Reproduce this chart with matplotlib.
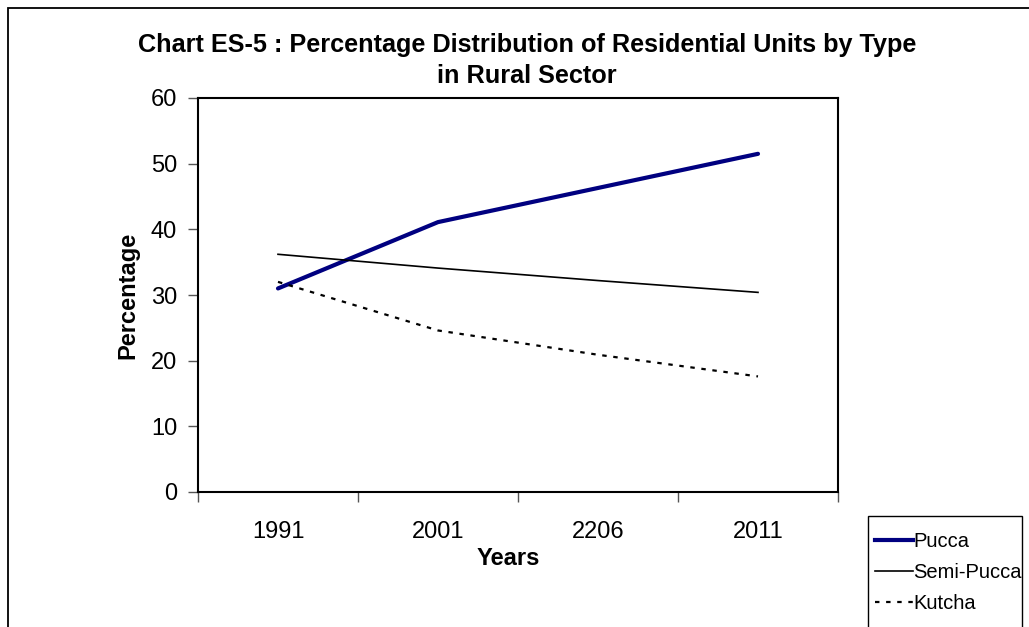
import numpy as np
import matplotlib
matplotlib.use("Agg")
import matplotlib.pyplot as plt
from matplotlib.patches import Rectangle
from matplotlib.lines import Line2D

plt.rcParams['font.family'] = ['Liberation Sans', 'DejaVu Sans']

# data
years = ["1991", "2001", "2206", "2011"]
pucca = [31.0, 41.1, 46.3, 51.5]
semi_pucca = [36.2, 34.1, 32.2, 30.4]
kutcha = [32.0, 24.6, 20.9, 17.6]

W, H = 1029, 627
fig = plt.figure(figsize=(W / 100, H / 100), dpi=100)
ax = fig.add_axes([198 / W, 1 - 492 / H, 640 / W, 394 / H])

x = np.arange(len(years))
ax.plot(x, pucca, color="#000080", lw=3.0, solid_capstyle="round", label="Pucca")
ax.plot(x, semi_pucca, color="black", lw=1.2, label="Semi-Pucca")
ax.plot(x, kutcha, color="black", lw=1.6, linestyle=(0, (2, 3)), label="Kutcha")

ax.set_xlim(-0.5, len(years) - 0.5)
ax.set_ylim(0, 60)
ax.set_yticks(np.arange(0, 61, 10))

# boundaries get tick marks, centres get the labels
ax.set_xticks(np.arange(-0.5, len(years), 1.0))
ax.set_xticklabels([])
ax.set_xticks(x, minor=True)
ax.set_xticklabels(years, minor=True)
ax.tick_params(axis="x", which="minor", length=0, pad=21, labelsize=17)
ax.tick_params(axis="x", which="major", length=7, width=1, direction="out", color="#555555")
ax.tick_params(axis="y", length=7, width=1, direction="out", labelsize=17, pad=8, color="#555555")

for s in ax.spines.values():
    s.set_linewidth(1.5)
    s.set_color("black")

ax.set_xlabel("Years", fontsize=17, fontweight="bold", labelpad=0)
ax.xaxis.set_label_coords(0.485, -0.14)
ax.set_ylabel("Percentage", fontsize=17, fontweight="bold", labelpad=8)

fig.text(527 / W, 1 - 45 / H, "Chart ES-5 : Percentage Distribution of Residential Units by Type",
         ha="center", va="center", fontsize=18.2, fontweight="bold")
fig.text(527 / W, 1 - 76 / H, "in Rural Sector",
         ha="center", va="center", fontsize=18.2, fontweight="bold")

# outer chart border (cut off at right and bottom)
fig.patches.append(Rectangle((8 / W, -0.2), 1.2, 1.2 - 8 / H, transform=fig.transFigure,
                             fill=False, edgecolor="black", lw=1.3))

# legend box (cut off at bottom)
fig.patches.append(Rectangle((868 / W, -0.2), (1022 - 868) / W, 0.2 + 1 - 516 / H,
                             transform=fig.transFigure, fill=False, edgecolor="black", lw=1.0))
handles = [
    Line2D([], [], color="#000080", lw=3.0),
    Line2D([], [], color="black", lw=1.2),
    Line2D([], [], color="black", lw=1.6, linestyle=(0, (2, 3))),
]
leg = fig.legend(handles, ["Pucca", "Semi-Pucca", "Kutcha"], loc="upper left",
                 bbox_to_anchor=(871 / W, 1 - 528 / H), frameon=False, fontsize=14.5,
                 handlelength=1.9, handletextpad=0.0, labelspacing=0.6, borderpad=0.1,
                 borderaxespad=0.1)

fig.savefig("out.png", dpi=100, facecolor="white")
